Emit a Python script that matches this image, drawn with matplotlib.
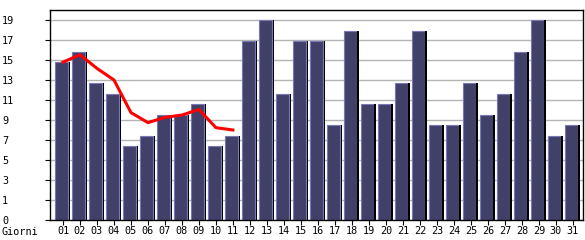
import matplotlib
matplotlib.use('Agg')
import matplotlib.pyplot as plt

days = ['%02d' % d for d in range(1, 32)]
visits = [15, 16, 13, 12, 7, 8, 10, 10, 11, 7, 8, 17, 19, 12, 17, 17, 9,
          18, 11, 11, 13, 18, 9, 9, 13, 10, 12, 16, 19, 8, 9]
trend = [15.0, 15.7, 14.4, 13.3, 10.2, 9.25, 9.75, 9.97, 10.5, 8.77, 8.55]

ytick_vals = [1.9 * k for k in range(11)]
ytick_labels = ['0', '1', '3', '5', '7', '9', '11', '13', '15', '17', '19']

plt.rcParams['font.family'] = 'DejaVu Sans Mono'
plt.rcParams['font.size'] = 7.3

fig = plt.figure(figsize=(5.85, 2.4), dpi=100)
ax = fig.add_axes([50 / 585, 20 / 240, 533 / 585, 210 / 240])

x = list(range(1, 32))
# bar body with light edge, then black shadow on the right
ax.bar([i - 0.46 for i in x], visits, width=0.78, align='edge', color='#404068',
       edgecolor='#7878b8', linewidth=0.8, zorder=2)
ax.bar([i + 0.33 for i in x], visits, width=0.11, align='edge',
       color='black', linewidth=0, zorder=3)

ax.plot(x[:len(trend)], trend, color='#ff0000', linewidth=2.2, zorder=4)

ax.set_xlim(0.235, 31.6)
ax.set_ylim(0, 19.95)
ax.set_yticks(ytick_vals)
ax.set_yticklabels(ytick_labels)
ax.set_xticks(x)
ax.set_xticklabels(days)
ax.grid(axis='y', color='#b4b4b4', linewidth=1.0, zorder=0)
ax.set_axisbelow(True)

ax.tick_params(axis='y', length=3.6, width=0.8, pad=31)
for lab in ax.get_yticklabels():
    lab.set_horizontalalignment('left')
ax.tick_params(axis='x', length=3.6, width=0.8, pad=1)
for s in ax.spines.values():
    s.set_linewidth(1.0)

fig.text(2 / 585, 8 / 240, 'Giorni', ha='left', va='center')

fig.savefig('out.png', dpi=100)
